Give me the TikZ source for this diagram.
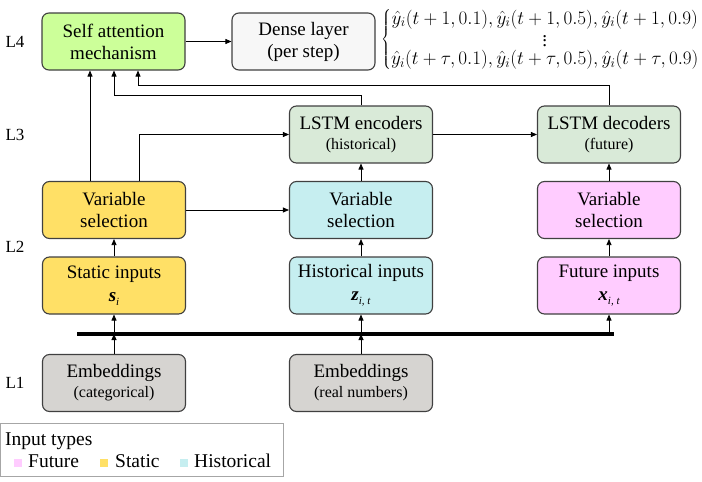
\documentclass[tikz,border=0pt]{standalone}
\usepackage{fontspec}
\usepackage{graphicx}
\setmainfont{Liberation Serif}
\usetikzlibrary{arrows.meta}
\definecolor{cSA}{HTML}{CCFF99}
\definecolor{cDense}{HTML}{F7F7F7}
\definecolor{cLSTM}{HTML}{D9EAD8}
\definecolor{cStat}{HTML}{FFE066}
\definecolor{cHist}{HTML}{C6EEF0}
\definecolor{cFut}{HTML}{FFCCFF}
\definecolor{cEmb}{HTML}{D6D4D1}
\definecolor{cBord}{HTML}{404040}
\begin{document}
\begin{tikzpicture}[x=1pt,y=-1pt,
  box/.style={draw=cBord,line width=1.1pt,rounded corners=7pt,minimum width=143pt,minimum height=57pt,align=center,font=\fontsize{19}{22}\selectfont,inner sep=0pt},
  conn/.style={line width=0.8pt,-{Triangle[length=6pt,width=5pt]}},
  lay/.style={font=\fontsize{17}{18}\selectfont},
  leg/.style={anchor=base west,inner sep=0pt,font=\fontsize{19.5}{20}\selectfont},
  sq/.style={minimum size=8pt,inner sep=0pt}
]
\useasboundingbox (0,0) rectangle (702,482);
% layer labels
\node[lay] (l4) at (15,42) {L4};
\node[lay] (l3) at (15,135) {L3};
\node[lay] (l2) at (15,247) {L2};
\node[lay] (l1) at (15,383) {L1};
% boxes
\node[box,fill=cSA] (sa) at (113.5,41.5) {Self attention\\mechanism};
\node[box,fill=cDense] (dense) at (303.5,41.5) {Dense layer\\(per step)};
\node[box,fill=cLSTM] (enc) at (361,134.5) {LSTM encoders\\[-2pt]{\fontsize{16}{17}\selectfont(historical)}};
\node[box,fill=cLSTM] (dec) at (609,134.5) {LSTM decoders\\[-2pt]{\fontsize{16}{17}\selectfont(future)}};
\node[box,fill=cStat] (vsy) at (114,210) {Variable\\selection};
\node[box,fill=cHist] (vsc) at (361,210) {Variable\\selection};
\node[box,fill=cFut] (vsp) at (609,210) {Variable\\selection};
\node[box,fill=cStat] (iny) at (114,285.5) {Static inputs\\[1pt]{\bfseries\itshape s}\raisebox{-4pt}{\fontsize{11}{11}\selectfont\itshape i}};
\node[box,fill=cHist] (inc) at (361,285.5) {Historical inputs\\[1pt]{\bfseries\itshape z}\raisebox{-4pt}{\fontsize{11}{11}\selectfont\itshape i, t}};
\node[box,fill=cFut] (inp) at (609,285.5) {Future inputs\\[1pt]{\bfseries\itshape x}\raisebox{-4pt}{\fontsize{11}{11}\selectfont\itshape i, t}};
\node[box,fill=cEmb] (emy) at (114,383) {Embeddings\\[-2pt]{\fontsize{16}{17}\selectfont(categorical)}};
\node[box,fill=cEmb] (emc) at (361,383) {Embeddings\\[-2pt]{\fontsize{16}{17}\selectfont(real numbers)}};
% output math
\node[anchor=west,inner sep=0pt,font=\fontsize{17.28}{20}\selectfont] (out) at (381,39.5)
 {\scalebox{1.105}{$\left\{\renewcommand{\arraystretch}{0.6}\begin{array}{@{}c@{}}
 \hat{y}_i(t+1,0.1),\hat{y}_i(t+1,0.5),\hat{y}_i(t+1,0.9)\\
 \vdots\\
 \hat{y}_i(t+\tau,0.1),\hat{y}_i(t+\tau,0.5),\hat{y}_i(t+\tau,0.9)
 \end{array}\right.$}};
% bus
\coordinate (busL) at (77,334);
\coordinate (busR) at (614,334);
\draw[line width=4pt] (busL) -- (busR);
\coordinate (by) at (114,334);
\coordinate (bc) at (361,334);
\coordinate (bp) at (609,334);
\draw[conn] (emy.north) -- (by);
\draw[conn] (emc.north) -- (bc);
\draw[conn] (by) -- (iny.south);
\draw[conn] (bc) -- (inc.south);
\draw[conn] (bp) -- (inp.south);
% L2
\draw[conn] (iny) -- (vsy);
\draw[conn] (inc) -- (vsc);
\draw[conn] (inp) -- (vsp);
\draw[conn] (vsy.east) -- (vsc.west);
\draw[conn] (vsc) -- (enc);
\draw[conn] (vsp) -- (dec);
% L3
\draw[conn] (vsy.north -| 139.5,0) |- (enc.west);
\draw[conn] (enc.east) -- (dec.west);
\draw[conn] (vsy.north -| 90,0) -- (sa.south -| 90,0);
\draw[conn] (enc.north) |- (114,95) -- (sa.south -| 114,0);
\draw[conn] (dec.north) |- (138,85) -- (sa.south -| 138,0);
\draw[conn] (sa.east) -- (dense.west);
% legend
\draw[draw=black!35,line width=0.8pt] (0.5,423.5) rectangle (283,476);
\node[leg] (lt) at (5,445) {Input types};
\node[sq,fill=cFut] (s1) at (17.5,463) {};
\node[leg] (t1) at (28,467.5) {Future};
\node[sq,fill=cStat] (s2) at (104,463) {};
\node[leg] (t2) at (115,467.5) {Static};
\node[sq,fill=cHist] (s3) at (183.5,463) {};
\node[leg] (t3) at (194,467.5) {Historical};
\end{tikzpicture}
\end{document}
